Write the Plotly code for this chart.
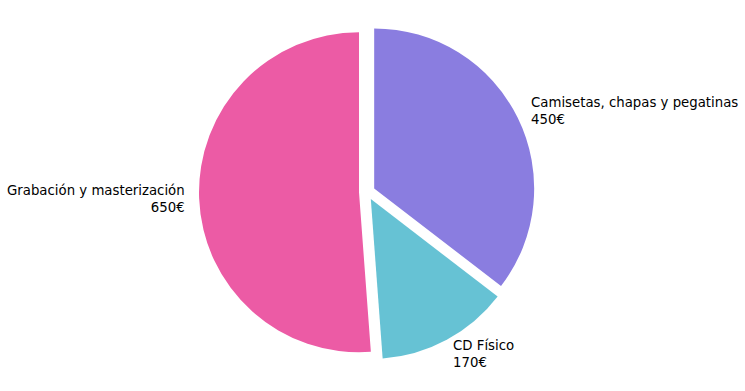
import math
import plotly.graph_objects as go

labels = ["Camisetas, chapas y pegatinas", "CD Físico", "Grabación y masterización"]
values = [450, 170, 650]
colors = ["#8A7DE0", "#66C2D4", "#EC5BA5"]
pull = [0.05, 0.05, 0.05]

W, H = 745, 391
cx, cy = 367, 192  # pie centre in px from top-left
R = 160
maxpull = max(pull)
half = R * (1 + maxpull)

dom_x = [(cx - half) / W, (cx + half) / W]
dom_y = [(H - cy - half) / H, (H - cy + half) / H]

fig = go.Figure(go.Pie(
    labels=labels, values=values, sort=False, direction="clockwise", rotation=0,
    marker=dict(colors=colors, line=dict(width=0)), pull=pull,
    textinfo="none", hoverinfo="label+value", showlegend=False,
    domain=dict(x=dom_x, y=dom_y),
))

# labels placed along each slice's mid-angle, outside the pie
total = sum(values)
start = 0.0
annotations = []
for lab, v, p in zip(labels, values, pull):
    frac = v / total
    mid = (start + frac / 2) * 2 * math.pi  # clockwise from top
    start += frac
    dx, dy = math.sin(mid), -math.cos(mid)
    r = R * (1.1 + p)
    x = cx + r * dx
    y = cy + r * dy
    left = dx >= 0
    annotations.append(dict(
        x=x / W, y=1 - y / H, xref="paper", yref="paper",
        text=f"{lab}<br>{v}€", showarrow=False,
        xanchor="left" if left else "right", yanchor="middle",
        align="left" if left else "right",
        xshift=-3 if left else 4,
        font=dict(family="DejaVu Sans", size=13.3, color="#000000"),
    ))

fig.update_layout(
    width=W, height=H, margin=dict(l=0, r=0, t=0, b=0),
    paper_bgcolor="white", plot_bgcolor="white",
    annotations=annotations,
)
fig.write_html(
    "out.html",
    config={"displayModeBar": False},
    post_script="document.body.style.margin='0';document.body.style.overflow='hidden';",
)
